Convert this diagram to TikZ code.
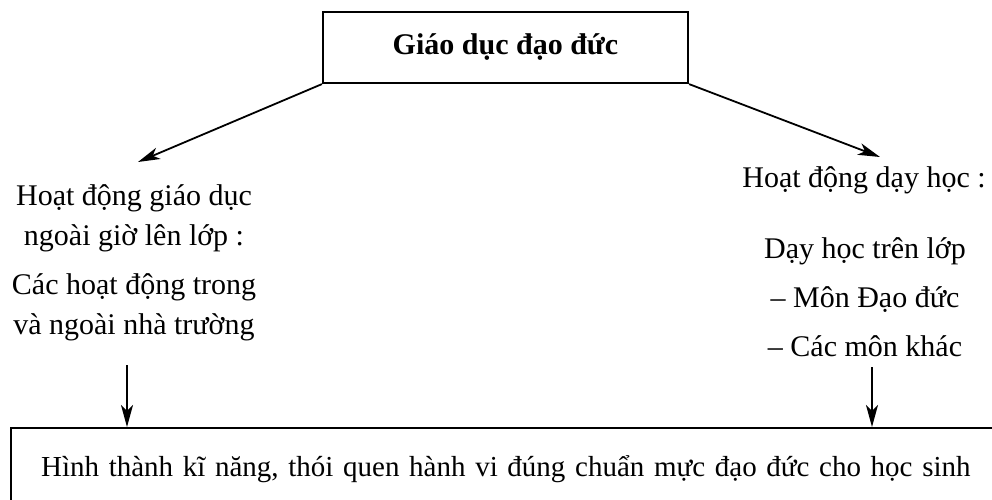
\documentclass[tikz,border=0pt]{standalone}
\usepackage{fontspec}
\setmainfont{Liberation Serif}
\usetikzlibrary{arrows.meta}

\begin{document}
\begin{tikzpicture}[x=0.5pt,y=-0.5pt,
        every node/.style={font=\fontsize{15}{20}\selectfont},
        box/.style={draw,line width=1.1pt},
        link/.style={line width=0.9pt,-{Stealth[length=11pt,width=6pt,inset=3pt]}}]
        \useasboundingbox (0,0) rectangle (992,499);

        % top box
        \node[box,minimum width=182.5pt,minimum height=35.5pt,font=\fontsize{15}{20}\selectfont\bfseries] (top) at (505.5,47.5) {Giáo dục đạo đức};

        % left branch
        \node[align=center] (outA) at (134,218) {Hoạt động giáo dục\\ngoài giờ lên lớp :};
        \node[align=center] (outB) at (134,307.5) {Các hoạt động trong\\và ngoài nhà trường};

        % right branch
        \node (teach) at (864,180) {Hoạt động dạy học :};
        \node[align=center,font=\fontsize{15}{24.5}\selectfont] (subj) at (865,297) {Dạy học trên lớp\\– Môn Đạo đức\\– Các môn khác};

        % bottom box
        \node[box,anchor=north west,text width=560pt,inner xsep=15pt,minimum height=41pt,align=left,font=\fontsize{14.5}{20}\selectfont] (goal) at (10,427) {Hình thành kĩ năng, thói quen hành vi đúng chuẩn mực đạo đức cho học sinh};

        % arrows
        \coordinate (la) at (138,162);
        \coordinate (ra) at (880,157);
        \coordinate (lv) at (127,365);
        \coordinate (rv) at (872,367);
        \draw[link] (top.south west) -- (la);
        \draw[link] (top.south east) -- (ra);
        \draw[link] (lv) -- (lv |- goal.north);
        \draw[link] (rv) -- (rv |- goal.north);
    \end{tikzpicture}
\end{document}
